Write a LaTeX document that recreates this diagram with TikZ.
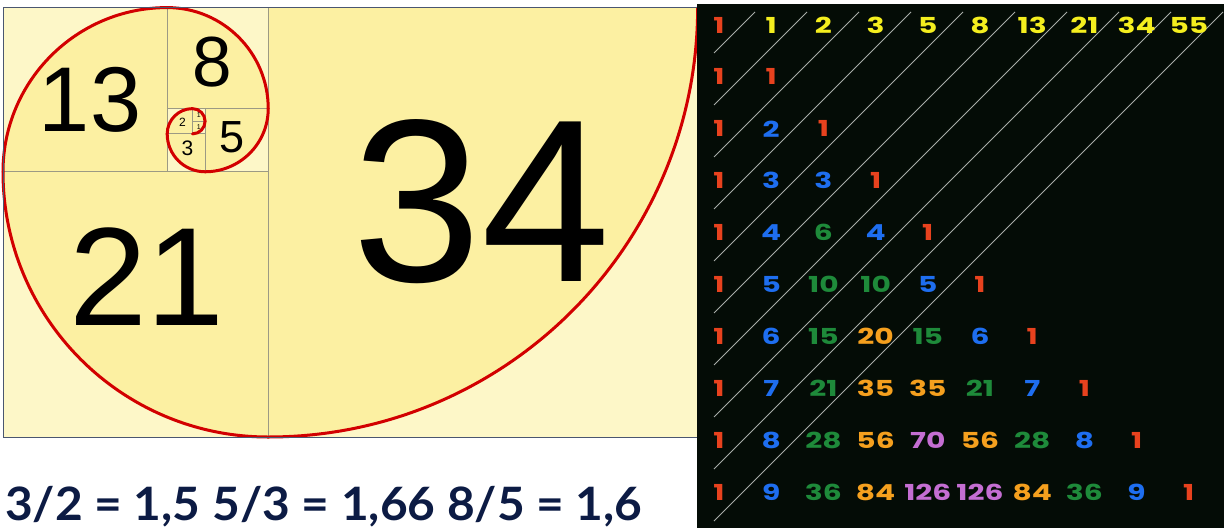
\documentclass[tikz,border=0pt]{standalone}
\usepackage{fontspec}
\setmainfont{Liberation Sans}
\newfontfamily\pascalfont{Poppins}
\newfontfamily\quotfont{Lato}
\usepackage{tikz}
\usetikzlibrary{arrows}

\definecolor{hellgelb}{HTML}{FDF7C8}
\definecolor{dunkelgelb}{HTML}{FCF0A2}
\definecolor{spirale}{HTML}{D20000}
\definecolor{kante}{HTML}{9C9A84}
\definecolor{rahmen}{HTML}{4A5670}
\definecolor{tafel}{HTML}{040C06}
\definecolor{diaggrau}{HTML}{A8ACA8}
\definecolor{navy}{HTML}{0C1B44}
\definecolor{fibgelb}{HTML}{F4EE1E}
\definecolor{pz0}{HTML}{E8421E}
\definecolor{pz1}{HTML}{1E6EF0}
\definecolor{pz2}{HTML}{1E8A3A}
\definecolor{pz3}{HTML}{F5A01E}
\definecolor{pz4}{HTML}{C46ED2}

\begin{document}
\begin{tikzpicture}[x=1pt, y=-1pt,
			kante/.style={draw=kante, line width=0.9pt},
			spiralbogen/.style={draw=spirale, line width=3pt, line cap=round},
			zahl/.style={inner sep=0pt, font=\fontsize{#1}{#1}\selectfont},
			diag/.style={draw=diaggrau, line width=0.8pt},
			pascal/.style={inner sep=0pt, xscale=1.35, font=\pascalfont\bfseries\fontsize{22}{22}\selectfont}]
			%Bildbereich
			\useasboundingbox (0,0) rectangle (1224,528);
			\fill[white] (0,0) rectangle (1224,528);
			%Fibonacci-Spirale (Einheit = ein Feld)
			\begin{scope}[shift={(3,437)}, x=12.63pt, y=12.63pt]
				\fill[hellgelb] (0,0) rectangle (55,34);
				\foreach \cx/\cy/\a/\b/\r in {21/34/-90/0/34, 21/21/180/270/21, 13/21/180/90/13, 13/26/90/0/8, 16/26/0/-90/5, 16/24/-90/-180/3, 15/24/180/90/2, 15/25/90/0/1, 15/25/0/-90/1}
					\fill[dunkelgelb] (\cx,\cy) -- ([shift={(\a:\r)}]\cx,\cy) arc[start angle=\a, end angle=\b, radius=\r] -- cycle;
				% Quadrate
				\foreach \x/\y/\s in {0/0/21, 21/0/34, 0/21/13, 13/26/8, 16/21/5, 13/21/3, 13/24/2, 15/25/1, 15/24/1}
					\draw[kante] (\x,\y) rectangle ++(\s,\s);
				% Spirale
				\foreach \cx/\cy/\a/\b/\r in {21/34/-90/0/34, 21/21/180/270/21, 13/21/180/90/13, 13/26/90/0/8, 16/26/0/-90/5, 16/24/-90/-180/3, 15/24/180/90/2, 15/25/90/0/1, 15/25/0/-90/1}
					\draw[spiralbogen] ([shift={(\a:\r)}]\cx,\cy) arc[start angle=\a, end angle=\b, radius=\r];
				\draw[rahmen, line width=1pt] (0,0) rectangle (55,34);
				% Beschriftung
				\node[zahl=232] (q34) at (37.85,18.6) {34};
				\node[zahl=140] (q21) at (11.4,12.67) {21};
				\node[zahl=92] (q13) at (6.9,26.7) {13};
				\node[zahl=71] (q8) at (16.6,29.7) {8};
				\node[zahl=45] (q5) at (18.1,23.7) {5};
				\node[zahl=21] (q3) at (14.6,22.9) {3};
				\node[zahl=12] (q2) at (14.2,24.9) {2};
				\node[zahl=7] (q1a) at (15.5,25.5) {1};
				\node[zahl=7] (q1b) at (15.5,24.5) {1};
			\end{scope}
			%Quotienten
			\node[anchor=base west, inner sep=0pt, xscale=1.04, text=navy, font=\quotfont\bfseries\fontsize{46}{46}\selectfont] (quotienten) at (5,520) {3/2 = 1,5 5/3 = 1,66 8/5 = 1,6};
			%Pascalsches Dreieck
			\fill[tafel] (697,4) rectangle (1224,528);
			\foreach \k [evaluate=\k as \d using 41+52*\k] in {0,...,9}
				\draw[diag] (714,12+\d) -- ++(\d,-\d);
			\foreach \v [count=\k] in {1,2,3,5,8,13,21,34,55}
				\node[pascal, text=fibgelb] (f-\k) at (719+52.2*\k,25) {\v};
			\foreach \n/\zeile in {0/{1}, 1/{1,1}, 2/{1,2,1}, 3/{1,3,3,1}, 4/{1,4,6,4,1}, 5/{1,5,10,10,5,1}, 6/{1,6,15,20,15,6,1}, 7/{1,7,21,35,35,21,7,1}, 8/{1,8,28,56,70,56,28,8,1}, 9/{1,9,36,84,126,126,84,36,9,1}}
				\foreach \v [count=\k from 0] in \zeile {
					\pgfmathtruncatemacro\f{min(\k,\n-\k)}
					\node[pascal, text=pz\f] (p-\n-\k) at (719+52.2*\k,25+51.9*\n) {\v};
				}
		\end{tikzpicture}
\end{document}
